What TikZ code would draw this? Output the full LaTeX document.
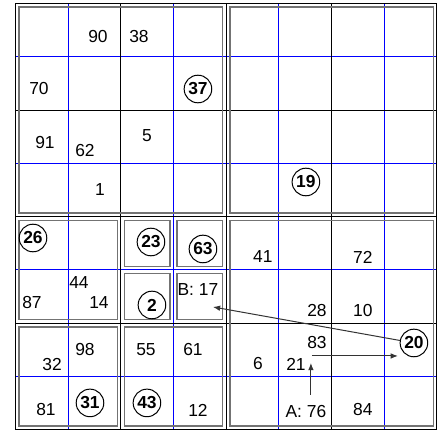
\documentclass[tikz,border=0pt]{standalone}
\usepackage{fontspec}
\setmainfont{Liberation Sans}
\usetikzlibrary{arrows.meta}

\begin{document}
\begin{tikzpicture}[
    x=26.35pt, y=-26.65pt,
    font=\fontsize{8.7}{10}\selectfont,
    num/.style={inner sep=1pt},
    given/.style={circle, draw, line width=0.5pt, inner sep=0.6pt, minimum size=13.8pt, font=\fontsize{8.7}{10}\selectfont\bfseries},
    region/.style={draw=black!55, line width=0.75pt},
    thinline/.style={blue, line width=0.5pt},
    boxline/.style={black, line width=0.6pt},
    arr/.style={-{Latex[length=3.6pt,width=2.8pt]}, line width=0.5pt, black!80}
]
\useasboundingbox (-0.294,-0.066) rectangle (8,8.058);

% grid
\foreach \i in {1,3,5,7} {
    \draw[thinline] (\i,0) -- (\i,8);
    \draw[thinline] (0,\i) -- (8,\i);
}
\foreach \i in {0,2,4,6,8} {
    \draw[boxline] (\i,0) -- (\i,8);
    \draw[boxline] (0,\i) -- (8,\i);
}

% regions
\foreach \xa/\ya/\xb/\yb in {0/0/4/4, 4/0/8/4, 4/4/8/8, 0/4/2/6, 2/4/3/5, 3/4/4/5, 2/5/3/6, 3/5/4/6, 0/6/2/8, 2/6/4/8}
    \draw[region] ([shift={(1.8pt,-1.8pt)}]\xa,\ya) rectangle ([shift={(-1.8pt,1.8pt)}]\xb,\yb);

% top left
\node[num] (n90) at (1.565,0.610) {90};
\node[num] (n38) at (2.343,0.610) {38};
\node[num] (n70) at (0.446,1.604) {70};
\node[given] (g37) at (3.463,1.604) {37};
\node[num] (n91) at (0.560,2.617) {91};
\node[num] (n62) at (1.319,2.749) {62};
\node[num] (n5) at (2.495,2.486) {5};
\node[num] (n1) at (1.603,3.499) {1};

% top right
\node[given] (g19) at (5.512,3.349) {19};

% bottom left
\node[given] (g26) at (0.332,4.400) {26};
\node[given] (g23) at (2.571,4.475) {23};
\node[given] (g63) at (3.558,4.606) {63};
\node[num] (n44) at (1.205,5.244) {44};
\node[num] (n87) at (0.313,5.619) {87};
\node[num] (n14) at (1.584,5.619) {14};
\node[given] (g2) at (2.590,5.657) {2};
\node[num] (nB) at (3.463,5.375) {B: 17};
\node[num] (n98) at (1.319,6.501) {98};
\node[num] (n32) at (0.693,6.782) {32};
\node[num] (n55) at (2.476,6.501) {55};
\node[num] (n61) at (3.368,6.501) {61};
\node[num] (n81) at (0.579,7.627) {81};
\node[given] (g31) at (1.414,7.495) {31};
\node[given] (g43) at (2.495,7.495) {43};
\node[num] (n12) at (3.463,7.627) {12};

% bottom right
\node[num] (n41) at (4.696,4.756) {41};
\node[num] (n72) at (6.594,4.756) {72};
\node[num] (n28) at (5.721,5.769) {28};
\node[num] (n10) at (6.594,5.769) {10};
\node[given] (g20) at (7.562,6.370) {20};
\node[num] (n83) at (5.721,6.370) {83};
\node[num] (n6) at (4.602,6.764) {6};
\node[num] (n21) at (5.323,6.764) {21};
\node[num] (nA) at (5.512,7.664) {A: 76};
\node[num] (n84) at (6.594,7.627) {84};

% moves
\coordinate (bTip) at (3.748,5.694);
\coordinate (rTail) at (5.626,6.614);
\coordinate (rTip) at (7.258,6.614);
\coordinate (uTail) at (5.607,7.345);
\coordinate (uTip) at (5.607,6.745);
\draw[arr] (g20) -- (bTip);
\draw[arr] (rTail) -- (rTip);
\draw[arr] (uTail) -- (uTip);
\end{tikzpicture}
\end{document}
